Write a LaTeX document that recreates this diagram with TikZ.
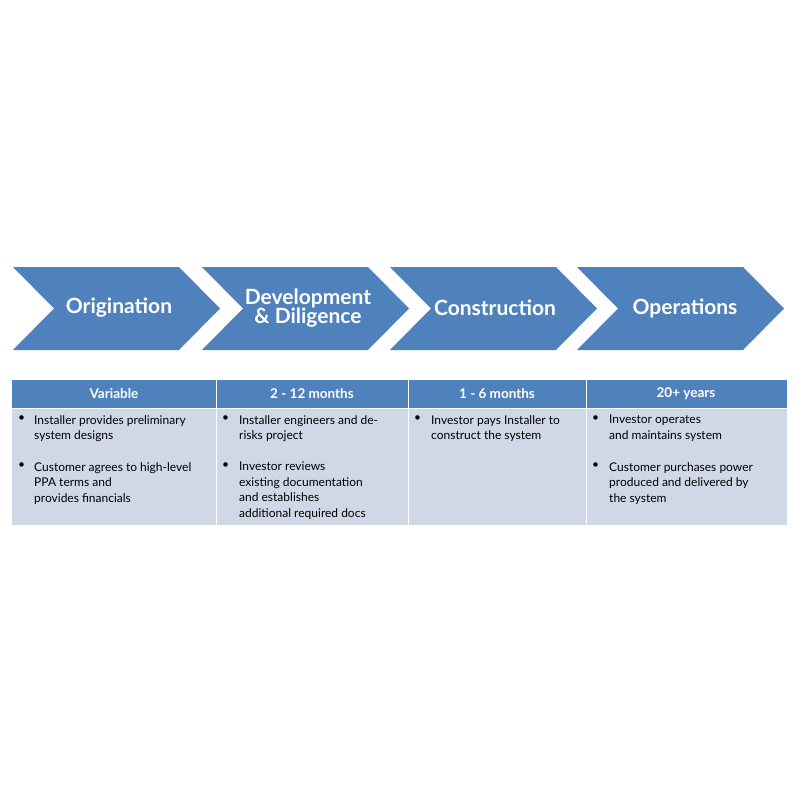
\documentclass[tikz,border=0pt]{standalone}
\usepackage{fontspec}
\setmainfont{Lato}
\definecolor{cblue}{HTML}{4F81BD}
\definecolor{cbody}{HTML}{D0D8E8}
\begin{document}
\begin{tikzpicture}[x=1pt,y=-1pt,
  chev/.style={fill=cblue,draw=none},
  ctext/.style={text=white,font=\fontsize{21}{22}\selectfont\bfseries,align=center},
  htext/.style={text=white,font=\fontsize{13.5}{15}\selectfont\bfseries},
  btext/.style={font=\fontsize{12}{15.5}\selectfont,align=left,anchor=north west,inner sep=0pt},
  bul/.style={font=\fontsize{12}{15.5}\selectfont,anchor=north west,inner sep=0pt}]
\useasboundingbox (0,0) rectangle (794,794);
\foreach \x/\n in {13/a,202/b,390/c,577/d}{
  \fill[chev] (\x,267) -- (\x+166,267) -- (\x+207,308.5) -- (\x+166,350) -- (\x,350) -- (\x+41,308.5) -- cycle;
}
\node[ctext] (ta) at (119,308) {Origination};
\node[ctext] (tb) at (308,308) {Development\\[-3pt]\& Diligence};
\node[ctext] (tc) at (495,308) {Construction};
\node[ctext] (td) at (685,308) {Operations};
\fill[cblue] (12,380) rectangle (787,408);
\fill[cbody] (12,408) rectangle (787,525);
\foreach \x in {216,408,586}{\draw[white,line width=1pt] (\x,380) -- (\x,525);}
\draw[white,line width=1pt] (12,408) -- (787,408);
\node[htext] (ha) at (114,394) {Variable};
\node[htext] (hb) at (312,394) {2 - 12 months};
\node[htext] (hc) at (497,394) {1 - 6 months};
\node[htext] (hd) at (686,394) {20+ years};
\foreach \x/\y in {18/415,18/462,222/415,222/462,414/415,592/415,592/462}{\node[bul] at (\x,\y) {•};}
\node[btext] (a1) at (34,415) {Installer provides preliminary\\system designs};
\node[btext] (a2) at (34,462) {Customer agrees to high-level\\PPA terms and\\provides financials};
\node[btext] (b1) at (239,415) {Installer engineers and de-\\risks project};
\node[btext] (b2) at (239,462) {Investor reviews\\existing documentation\\and establishes\\additional required docs};
\node[btext] (c1) at (431,415) {Investor pays Installer to\\construct the system};
\node[btext] (d1) at (609,415) {Investor operates\\and maintains system};
\node[btext] (d2) at (609,462) {Customer purchases power\\produced and delivered by\\the system};
\end{tikzpicture}
\end{document}
